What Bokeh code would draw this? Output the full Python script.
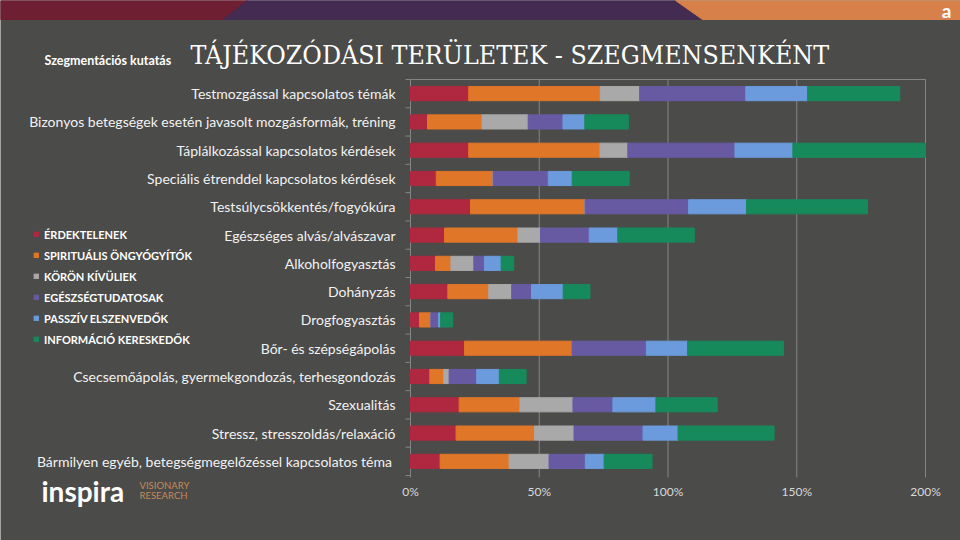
from bokeh.plotting import figure
from bokeh.models import ColumnDataSource, Range1d
from bokeh.core.properties import value
from bokeh.embed import file_html
from bokeh.resources import INLINE

# ---------------- data ----------------
categories = [
    "Testmozgással kapcsolatos témák",
    "Bizonyos betegségek esetén javasolt mozgásformák, tréning",
    "Táplálkozással kapcsolatos kérdések",
    "Speciális étrenddel kapcsolatos kérdések",
    "Testsúlycsökkentés/fogyókúra",
    "Egészséges alvás/alvászavar",
    "Alkoholfogyasztás",
    "Dohányzás",
    "Drogfogyasztás",
    "Bőr- és szépségápolás",
    "Csecsemőápolás, gyermekgondozás, terhesgondozás",
    "Szexualitás",
    "Stressz, stresszoldás/relaxáció",
    "Bármilyen egyéb,  betegségmegelőzéssel kapcsolatos téma",
]
erdektelenek = [22.6, 6.6, 22.6, 10.0, 23.3, 13.2, 9.7, 14.5, 3.5, 21.0, 7.5, 18.9, 17.7, 11.5]
spiritualis = [51.1, 21.2, 51.0, 22.1, 44.5, 28.5, 6.0, 15.9, 4.4, 41.7, 5.4, 23.6, 30.5, 26.8]
koron_kivuliek = [15.3, 17.9, 10.8, 0.0, 0.0, 8.8, 8.9, 8.9, 0.0, 0.0, 2.1, 20.6, 15.3, 15.5]
egeszsegtudatosak = [41.2, 13.5, 41.6, 21.4, 40.2, 18.9, 4.1, 7.7, 3.0, 28.9, 10.7, 15.5, 26.8, 14.1]
passziv = [24.0, 8.5, 22.5, 9.3, 22.5, 11.1, 6.5, 12.3, 0.8, 16.0, 8.8, 16.7, 13.6, 7.3]
informacio = [35.8, 16.9, 51.5, 22.1, 47.0, 29.7, 4.9, 10.4, 4.7, 37.3, 10.4, 23.8, 37.3, 18.6]

series_keys = ["erd", "spi", "kor", "ege", "pas", "inf"]
series_names = ["ÉRDEKTELENEK", "SPIRITUÁLIS ÖNGYÓGYÍTÓK", "KÖRÖN KÍVÜLIEK",
                "EGÉSZSÉGTUDATOSAK", "PASSZÍV ELSZENVEDŐK", "INFORMÁCIÓ KERESKEDŐK"]
series_colors = ["#b0283f", "#e07628", "#a9a9a9", "#675aa3", "#6b9bdc", "#178a5c"]
x_ticks = [0, 50, 100, 150, 200]
x_tick_labels = ["0%", "50%", "100%", "150%", "200%"]

title_text = "TÁJÉKOZÓDÁSI TERÜLETEK - SZEGMENSENKÉNT"
subtitle_text = "Szegmentációs kutatás"

# ---------------- layout / style ----------------
W, H = 960, 540
BG = "#4b4b49"
GRID = "#858585"
TXT = "#f2f2f2"
FONT = "Lato"

PLOT_L, PLOT_R, PLOT_T, PLOT_B = 410, 925, 79, 475   # chart area on the page (px)
X_MAX = 200.0
px_per_unit = (PLOT_R - PLOT_L) / X_MAX
row_h = (PLOT_B - PLOT_T) / len(categories)
row0 = PLOT_T + row_h / 2

positions = list(range(len(categories)))

src = ColumnDataSource(dict(pos=positions, cat=categories, erd=erdektelenek, spi=spiritualis,
                            kor=koron_kivuliek, ege=egeszsegtudatosak,
                            pas=passziv, inf=informacio))

x_range = Range1d(-PLOT_L / px_per_unit, (W - PLOT_L) / px_per_unit)
y_range = Range1d((H - row0) / row_h, (0 - row0) / row_h)   # flipped: first category on top

p = figure(width=W, height=H, x_range=x_range, y_range=y_range,
           x_axis_location=None, y_axis_location=None,
           output_backend="svg", toolbar_location=None,
           min_border=0, min_border_left=0, min_border_right=0,
           min_border_top=0, min_border_bottom=0)
p.extra_x_ranges = {"px": Range1d(0, W)}
p.extra_y_ranges = {"px": Range1d(H, 0)}
p.background_fill_color = BG
p.border_fill_color = BG
p.outline_line_color = None
p.grid.visible = False
for g in p.renderers:
    pass

# top band
p.patches(xs=[[0, 247, 223, 0], [247, 675, 702, 223], [675, 960, 960, 702]],
          ys=[[0, 0, 19, 19]] * 3,
          color=["#6e1f32", "#432b52", "#d8804a"],
          x_range_name="px", y_range_name="px")
p.text(x=[946], y=[10], text=["a"], text_color="#ffffff", text_font=value(FONT),
       text_font_style="bold", text_font_size="19px", text_align="center",
       text_baseline="middle", x_range_name="px", y_range_name="px")

# titles
p.text(x=[190], y=[54], text=[title_text], text_color="#ffffff",
       text_font=value("DejaVu Serif Condensed"), text_font_size="26.5px",
       text_align="left", text_baseline="middle", x_range_name="px", y_range_name="px")
p.text(x=[44], y=[60], text=[subtitle_text], text_color="#ffffff",
       text_font=value(FONT), text_font_style="bold", text_font_size="12.5px",
       text_align="left", text_baseline="middle", x_range_name="px", y_range_name="px")

# grid lines, axis line, top border line
p.segment(x0=x_ticks, x1=x_ticks, y0=[PLOT_T] * len(x_ticks), y1=[PLOT_B + 2] * len(x_ticks),
          line_color=GRID, line_width=1, y_range_name="px")
p.segment(x0=[x_ticks[0]], x1=[x_ticks[-1]], y0=[PLOT_T], y1=[PLOT_T],
          line_color=GRID, line_width=1, y_range_name="px")
bounds = [i - 0.5 for i in positions] + [positions[-1] + 0.5]
p.segment(x0=[PLOT_L - 5] * len(bounds), x1=[PLOT_L] * len(bounds), y0=bounds, y1=bounds,
          line_color=GRID, line_width=1, x_range_name="px")

# bars
p.hbar_stack(series_keys, y="pos", height=0.5, color=series_colors, source=src,
             legend_label=series_names)

# category labels (y axis)
p.text(x=[0] * len(categories), y=positions, text=categories, x_offset=-15,
       text_color=TXT, text_font=value(FONT), text_font_size="14px",
       text_align="right", text_baseline="middle")

# x tick labels
p.text(x=x_ticks, y=[491] * len(x_ticks), text=x_tick_labels, text_color="#d9d9d9",
       text_font=value(FONT), text_font_size="12px", text_align="center",
       text_baseline="middle", y_range_name="px")

# legend
lg = p.legend[0]
lg.location = (33, H - 349.5)
lg.background_fill_alpha = 0
lg.border_line_color = None
lg.padding = 0
lg.margin = 0
lg.spacing = 0
lg.glyph_width = 6
lg.glyph_height = 6
lg.label_height = 21
lg.label_standoff = 5
lg.label_text_color = "#ffffff"
lg.label_text_font = FONT
lg.label_text_font_style = "bold"
lg.label_text_font_size = "11px"

# logo
p.text(x=[41], y=[490], text=["inspira"], text_color="#ffffff", text_font=value(FONT),
       text_font_style="bold", text_font_size="28px", text_align="left",
       text_baseline="middle", x_range_name="px", y_range_name="px")
p.text(x=[139, 139], y=[485, 495], text=["VISIONARY", "RESEARCH"], text_color="#c68a58",
       text_font=value(FONT), text_font_size="9.5px", text_align="left",
       text_baseline="middle", x_range_name="px", y_range_name="px")

html = file_html(p, INLINE)
html = html.replace("<body>", '<body style="margin:0;background:%s;overflow:hidden;">' % BG, 1)
open("out.html", "w").write(html)
